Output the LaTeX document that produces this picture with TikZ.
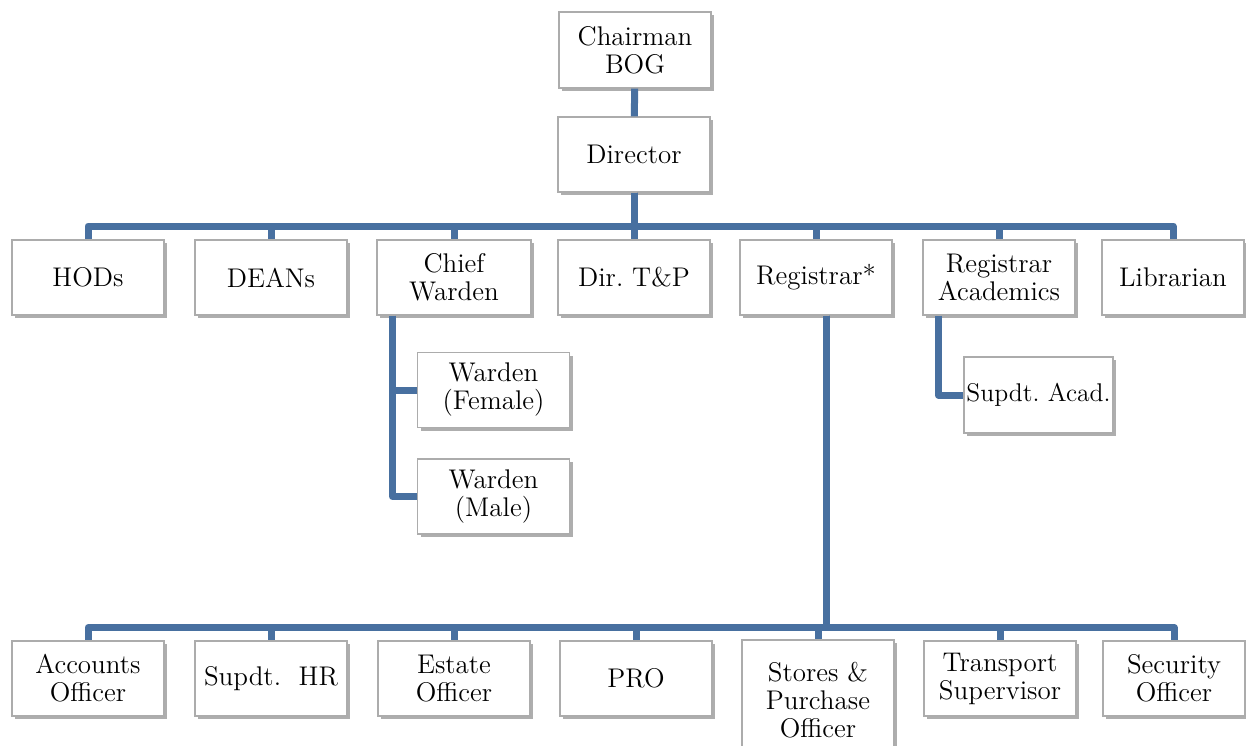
\documentclass[tikz,border=0pt]{standalone}
\usetikzlibrary{shadows}

\definecolor{linkblue}{RGB}{72,112,160}

\tikzset{
   post/.style={draw=gray!65, line width=0.6pt, fill=white, align=center,
      minimum width=76pt, minimum height=37.5pt, inner sep=2pt,
      font=\fontsize{13.5}{14}\selectfont\frenchspacing,
      drop shadow={shadow xshift=1.5pt, shadow yshift=-1.5pt, opacity=0.45, fill=black!70}},
   link/.style={draw=linkblue, line width=3.5pt, line join=round}
}

\begin{document}
\begin{tikzpicture}[x=0.5pt, y=-0.5pt]

      \clip (0,0) rectangle (1246,745);
      \fill[white] (0,0) rectangle (1246,745);

      \def\ra{277.5}
      \def\rb{678.5}

      \node [post, minimum height=38pt] (chair) at (635,50) {Chairman\\BOG};
      \node [post] (dir) at (634,154.5) {Director};

      \node [post] (hods)    at (88,\ra)   {HODs};
      \node [post] (deans)   at (271,\ra)  {DEANs};
      \node [post, minimum width=77pt] (cwarden) at (454,\ra) {Chief\\Warden};
      \node [post] (dtp)     at (634,\ra)  {Dir. T\&P};
      \node [post] (reg)     at (816,\ra)  {Registrar*};
      \node [post] (regacad) at (999,\ra)  {Registrar\\Academics};
      \node [post, minimum width=71pt] (lib) at (1173,\ra) {Librarian};

      \node [post] (wfem)    at (493.5,390)   {Warden\\(Female)};
      \node [post] (wmale)   at (493.5,496.5) {Warden\\(Male)};
      \node [post, minimum width=74.5pt, minimum height=38pt, inner xsep=0pt,
         font=\fontsize{12.8}{14}\selectfont\frenchspacing] (supacad) at (1038.5,395) {Supdt. Acad.};

      \node [post] (acc)       at (88,\rb)   {Accounts\\Officer};
      \node [post] (suphr)     at (271,\rb)  {Supdt.\ \ HR};
      \node [post] (estate)    at (454,\rb)  {Estate\\Officer};
      \node [post] (pro)       at (636,\rb)  {PRO};
      \node [post, minimum height=60pt] (stores) at (818,700) {Stores \&\\Purchase\\Officer};
      \node [post] (transport) at (1000,\rb) {Transport\\Supervisor};
      \node [post, minimum width=71pt] (security) at (1174,\rb) {Security\\Officer};

      \coordinate (bara) at (635,226);
      \coordinate (barb) at (826,627.5);

      \draw [link] (chair) -- (dir);

      \foreach \n in {hods,deans,cwarden,dtp,reg,regacad,lib}
         \draw [link] (dir.south) -- (dir.south |- bara) -| (\n.north);

      \draw [link] ([xshift=8pt]cwarden.south west) |- (wfem.west);
      \draw [link] ([xshift=8pt]cwarden.south west) |- (wmale.west);
      \draw [link] ([xshift=8pt]regacad.south west) |- (supacad.west);

      \foreach \n in {acc,suphr,estate,pro,stores,transport,security}
         \draw [link] ([xshift=5pt]reg.south) -- (barb) -| (\n.north);

   \end{tikzpicture}
\end{document}
